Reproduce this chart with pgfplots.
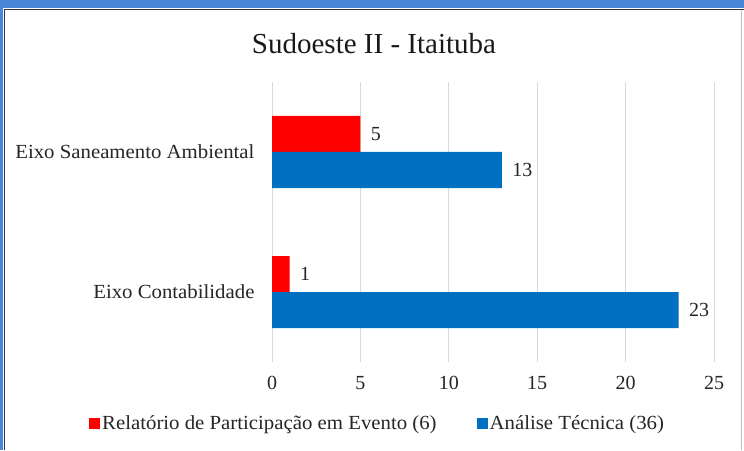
\documentclass[border=0pt]{standalone}
\usepackage{pgfplots}
\pgfplotsset{compat=1.18}
\usepackage{fontspec}
\setmainfont{Liberation Serif}
\newfontfamily\labfont[FakeStretch=1.04]{Liberation Serif}
\definecolor{barred}{RGB}{255,0,0}
\definecolor{barblue}{RGB}{0,112,192}
\definecolor{topblue}{RGB}{74,134,216}
\begin{document}
\begin{tikzpicture}[x=1pt,y=1pt]
\fill[white] (0,0) rectangle (744,450);
\path[use as bounding box] (0,0) rectangle (744,450);
\fill[topblue] (0,442) rectangle (744,450);
\fill[topblue] (0,0) rectangle (3,450);
\draw[black!80,line width=1.5pt] (4.5,0) -- (4.5,440.5) -- (744,440.5);
\draw[black!25,line width=1pt] (741,0) -- (741,440);
\node[font=\fontsize{29}{34}\selectfont, text=black!90] at (374,406) {Sudoeste II - Itaituba};
\begin{axis}[
  at={(272pt,88pt)}, anchor=south west,
  scale only axis, width=442pt, height=280pt,
  xmin=0, xmax=25, ymin=-0.5, ymax=1.5,
  xbar, bar width=36pt,
  ytick={0,1}, yticklabels={Eixo Contabilidade,Eixo Saneamento Ambiental},
  xtick={0,5,...,25},
  xmajorgrids, grid style={black!15,line width=1pt},
  axis line style={draw=none},
  major tick length=0pt,
  /pgf/number format/assume math mode=true,
  tick label style={font=\fontsize{20}{24}\selectfont, text=black!85},
  xticklabel style={yshift=-11pt},
  yticklabel style={xshift=-14pt, font=\labfont\fontsize{20}{24}\selectfont},
  nodes near coords,
  every node near coord/.append style={font=\fontsize{20}{24}\selectfont, text=black!85, xshift=7pt},
  legend columns=2,
  legend style={at={(-0.414,-0.218)}, anchor=west, draw=none, fill=none, inner sep=0pt,
    font=\labfont\fontsize{20}{24}\selectfont, text=black!85,
    /tikz/every even column/.append style={column sep=38pt}},
  legend image code/.code={\fill[#1] (0pt,-5.5pt) rectangle (11pt,5.5pt);},
  legend cell align=left,
]
\addplot[fill=barred, draw=none, bar shift=18pt] coordinates {(1,0) (5,1)};
\addlegendentry{Relatório de Participação em Evento (6)}
\addplot[fill=barblue, draw=none, bar shift=-18pt] coordinates {(23,0) (13,1)};
\addlegendentry{Análise Técnica (36)}
\end{axis}
\end{tikzpicture}
\end{document}
